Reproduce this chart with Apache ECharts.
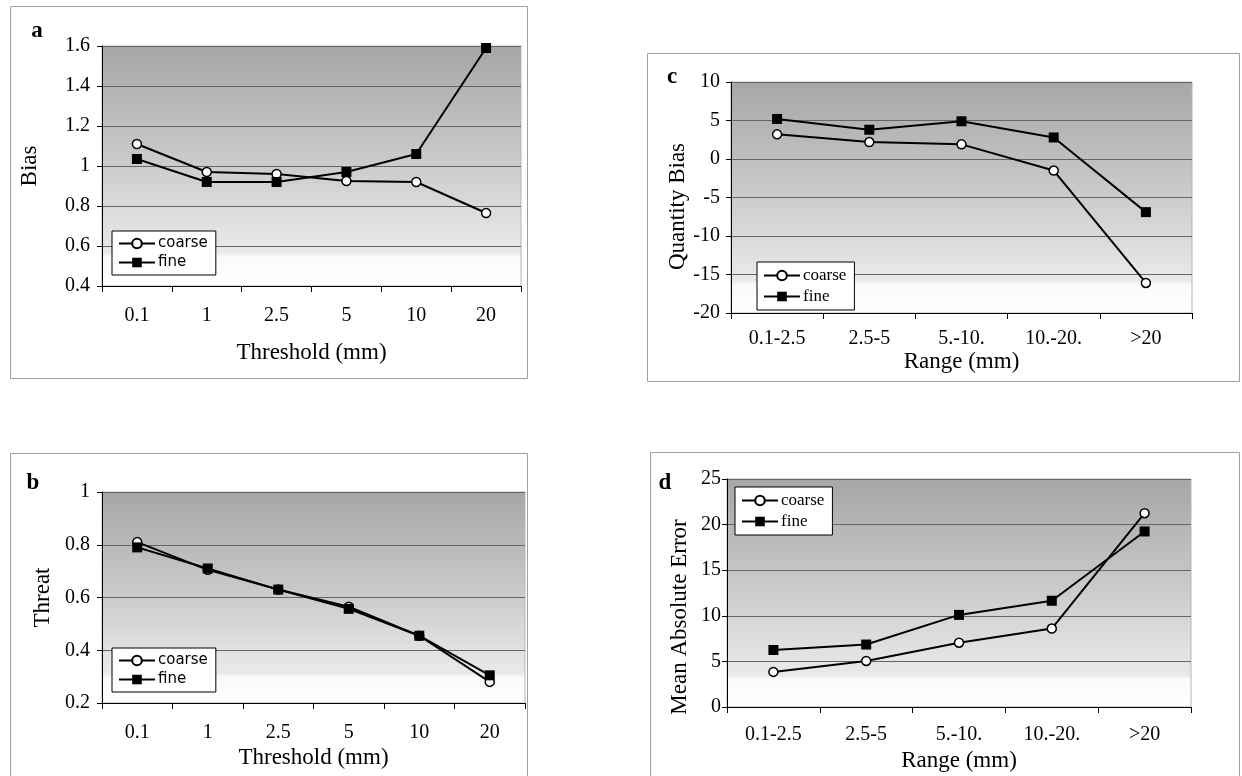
<!DOCTYPE html>
<html>
<head>
<meta charset="utf-8">
<script src="https://cdn.jsdelivr.net/npm/echarts@6/dist/echarts.min.js"></script>
<style>
  html, body { margin: 0; padding: 0; background: #fff; }
  #main { width: 1242px; height: 776px; }
</style>
</head>
<body>
<div id="main"></div>
<script>
// categories
const thresholds = ['0.1', '1', '2.5', '5', '10', '20'];
const ranges = ['0.1-2.5', '2.5-5', '5.-10.', '10.-20.', '>20'];

// a: Bias
const biasCoarse = [1.11, 0.97, 0.96, 0.925, 0.92, 0.765];
const biasFine = [1.035, 0.92, 0.92, 0.97, 1.06, 1.59];
// b: Threat
const threatCoarse = [0.81, 0.705, 0.63, 0.565, 0.455, 0.28];
const threatFine = [0.79, 0.71, 0.63, 0.557, 0.455, 0.305];
// c: Quantity Bias
const qbiasCoarse = [3.2, 2.2, 1.9, -1.5, -16.1];
const qbiasFine = [5.2, 3.8, 4.9, 2.8, -6.9];
// d: Mean Absolute Error
const maeCoarse = [3.85, 5.05, 7.05, 8.6, 21.25];
const maeFine = [6.25, 6.85, 10.1, 11.65, 19.25];

// y tick labels
const biasTicks = [0.4, 0.6, 0.8, 1, 1.2, 1.4, 1.6];
const threatTicks = [0.2, 0.4, 0.6, 0.8, 1];
const qbiasTicks = [-20, -15, -10, -5, 0, 5, 10];
const maeTicks = [0, 5, 10, 15, 20, 25];

const serif = '"Liberation Serif", "Times New Roman", serif';
const sans = '"DejaVu Sans", sans-serif';

const myChart = echarts.init(document.getElementById('main'));

function plotFill() {
  return new echarts.graphic.LinearGradient(0, 0, 0, 1, [
    { offset: 0, color: '#a6a6a6' },
    { offset: 0.45, color: '#c8c8c8' },
    { offset: 0.86, color: '#eaeaea' },
    { offset: 0.875, color: '#fafafa' },
    { offset: 1, color: '#ffffff' }
  ]);
}

function makeGrid(left, top, width, height) {
  return {
    left, top, width, height,
    show: true,
    backgroundColor: plotFill(),
    borderColor: '#b5b5b5',
    borderWidth: 1
  };
}

function makeX(gi, cats, name, nameGap, labelMargin) {
  return {
    type: 'category', gridIndex: gi, data: cats, boundaryGap: true,
    axisLine: { show: true, onZero: false, lineStyle: { color: '#000', width: 1 } },
    axisTick: { show: true, length: 6, lineStyle: { color: '#000' } },
    axisLabel: { color: '#000', fontFamily: serif, fontSize: 20, margin: labelMargin, interval: 0 },
    splitLine: { show: false },
    name, nameLocation: 'middle', nameGap,
    nameTextStyle: { color: '#000', fontFamily: serif, fontSize: 23 }
  };
}

function makeY(gi, ticks, name, nameGap, labelMargin, namePad) {
  const step = +(ticks[1] - ticks[0]).toFixed(6);
  return {
    type: 'value', gridIndex: gi,
    min: ticks[0], max: ticks[ticks.length - 1], interval: step,
    axisLine: { show: true, lineStyle: { color: '#000', width: 1 } },
    axisTick: { show: true, length: 5, lineStyle: { color: '#000' } },
    axisLabel: {
      color: '#000', fontFamily: serif, fontSize: 20, margin: labelMargin,
      formatter: v => String(+v.toFixed(4))
    },
    splitLine: { show: true, lineStyle: { color: '#666', width: 1 } },
    name, nameLocation: 'middle', nameGap, nameRotate: 90,
    nameTextStyle: { color: '#000', fontFamily: serif, fontSize: 23, padding: namePad }
  };
}

function lineSeries(name, gi, data) {
  const coarse = name === 'coarse';
  return {
    name, type: 'line', xAxisIndex: gi, yAxisIndex: gi, data,
    symbol: coarse ? 'circle' : 'rect',
    symbolSize: coarse ? 9 : 10,
    showAllSymbol: true,
    lineStyle: { color: '#000', width: 2 },
    itemStyle: coarse
      ? { color: '#fff', borderColor: '#000', borderWidth: 1.5 }
      : { color: '#000', borderColor: '#000', borderWidth: 0 },
    emphasis: { disabled: true },
    z: coarse ? 3 : 4
  };
}

function makeLegend(left, top, font, size) {
  return {
    left, top, orient: 'vertical',
    data: ['coarse', 'fine'],
    backgroundColor: '#fff',
    borderColor: '#000', borderWidth: 1, borderRadius: 0,
    padding: [5, 8, 5, 6],
    itemGap: 4, itemWidth: 36, itemHeight: 12,
    textStyle: { color: '#000', fontFamily: font, fontSize: size, padding: [0, 0, 0, -2] },
    selectedMode: false
  };
}

function panelBox(x, y, w, h) {
  return { type: 'rect', shape: { x, y, width: w, height: h }, style: { fill: 'none', stroke: '#a0a0a0', lineWidth: 1 }, z: -1, silent: true };
}

function panelLetter(t, x, y) {
  return { type: 'text', x, y, style: { text: t, fontFamily: serif, fontWeight: 'bold', fontSize: 23, fill: '#000', align: 'center', verticalAlign: 'middle' }, silent: true };
}

const option = {
  animation: false,
  backgroundColor: '#fff',
  grid: [
    makeGrid(102, 46, 419, 240),
    makeGrid(102, 492, 423, 211),
    makeGrid(731, 82, 461, 231),
    makeGrid(727, 479, 464, 228)
  ],
  xAxis: [
    makeX(0, thresholds, 'Threshold (mm)', 55, 20),
    makeX(1, thresholds, 'Threshold (mm)', 43, 20),
    makeX(2, ranges, 'Range (mm)', 37, 16),
    makeX(3, ranges, 'Range (mm)', 42, 18)
  ],
  yAxis: [
    makeY(0, biasTicks, 'Bias', 61, 12, [0, 0, 0, 0]),
    makeY(1, threatTicks, 'Threat', 48, 12, [0, 0, 0, 0]),
    makeY(2, qbiasTicks, 'Quantity Bias', 39, 11, [0, 18, 0, 0]),
    makeY(3, maeTicks, 'Mean Absolute Error', 36, 6, [0, 48, 0, 0])
  ],
  legend: [
    makeLegend(112, 231, sans, 15),
    makeLegend(112, 648, sans, 15),
    makeLegend(757, 262, serif, 17),
    makeLegend(735, 487, serif, 17)
  ],
  graphic: [
    panelBox(10.5, 6.5, 517, 372),
    panelBox(10.5, 453.5, 517, 330),
    panelBox(647.5, 53.5, 592, 328),
    panelBox(650.5, 452.5, 589, 330),
    panelLetter('a', 37, 31),
    panelLetter('b', 33, 483),
    panelLetter('c', 672, 77),
    panelLetter('d', 665, 483)
  ],
  series: [
    lineSeries('coarse', 0, biasCoarse),
    lineSeries('fine', 0, biasFine),
    lineSeries('coarse', 1, threatCoarse),
    lineSeries('fine', 1, threatFine),
    lineSeries('coarse', 2, qbiasCoarse),
    lineSeries('fine', 2, qbiasFine),
    lineSeries('coarse', 3, maeCoarse),
    lineSeries('fine', 3, maeFine)
  ]
};

myChart.setOption(option);
</script>
</body>
</html>
